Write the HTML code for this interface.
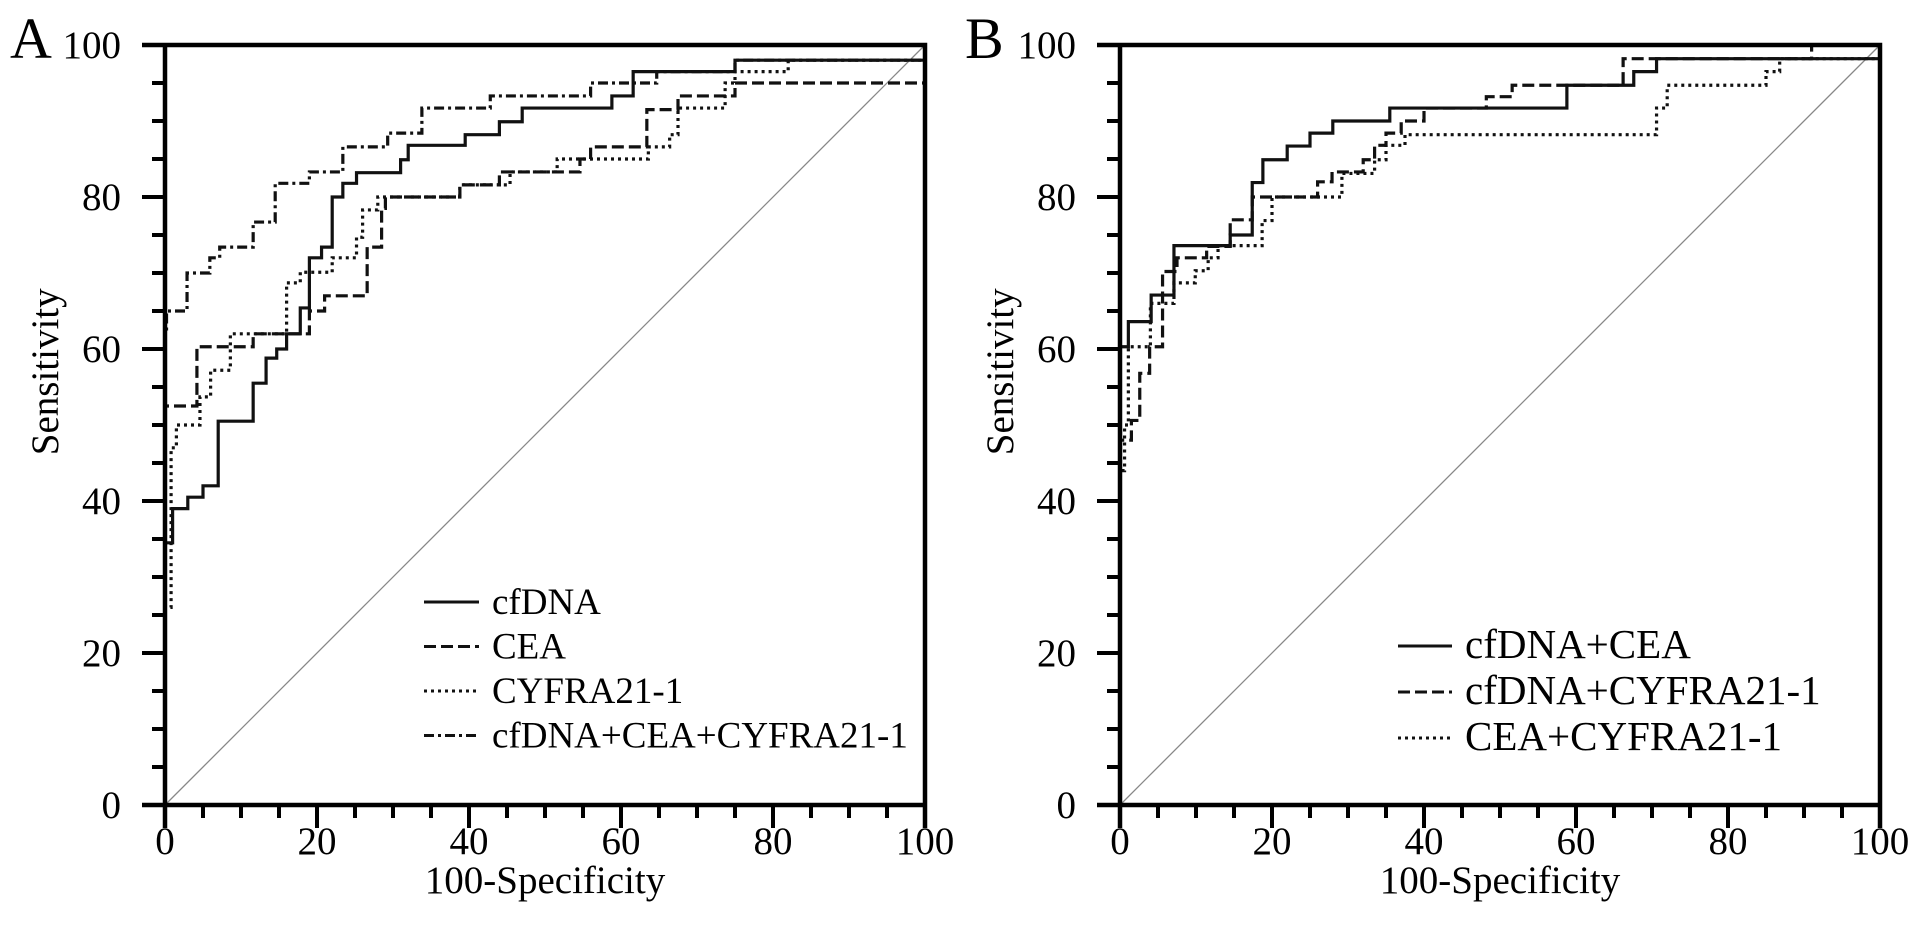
<!DOCTYPE html>
<html><head><meta charset="utf-8">
<style>
html,body{margin:0;padding:0;background:#fff;}
svg{display:block;font-family:"Liberation Serif",serif;}
</style></head>
<body>
<svg id="chart" width="1913" height="941" viewBox="0 0 1913 941" xmlns="http://www.w3.org/2000/svg"></svg>
<script>
// Panel A data: [100-specificity, sensitivity] step points
const aCfDNA = [[0,34.5],[1,39],[3,40.5],[5,42],[7,50.5],[11.6,55.5],[13.3,58.8],[14.7,60],[16,62],[17.8,65.4],[19,72],[20.6,73.4],[22,80],[23.4,81.8],[25.2,83.2],[31,84.9],[32,86.8],[39.5,88.2],[44,89.9],[47,91.7],[58.8,93.3],[61.6,96.5],[75,98],[100,100]];
const aCEA = [[0,52.5],[4.2,60.3],[11.6,62],[19,65],[21,67],[26.6,73.4],[28.5,78.5],[29,80],[38.8,81.6],[44,83.3],[54.6,85],[56,86.6],[63.4,91.5],[67.5,93.3],[75,95],[100,95]];
const aCYFRA = [[0,26],[0.8,47],[1.5,50],[4.6,53.7],[6,57.2],[8.6,62],[16,68.7],[17.8,70.1],[22,72],[25.2,74.7],[26,78.3],[28,80],[38.8,81.6],[45.4,83.3],[51.6,85],[63.6,86.6],[66.4,88.2],[67.5,91.7],[73.7,95],[75,96.5],[82,98],[100,100]];
const aComb = [[0,62],[0.2,65],[2.9,70],[5.9,72],[7.2,73.4],[11.6,76.7],[14.5,81.8],[19,83.3],[23.4,86.6],[29.3,88.4],[33.8,91.7],[42.8,93.3],[56,95],[64.7,96.5],[75,98],[100,100]];
// Panel B data
const bCfCEA = [[0,60.3],[1.1,63.6],[4.1,67.1],[7.1,73.6],[14.5,75],[17.4,81.9],[18.8,84.9],[22,86.7],[25,88.4],[28,90],[35.5,91.7],[58.8,94.7],[67.6,96.5],[70.6,98.2],[100,100]];
const bCfCYFRA = [[0,48],[1.5,50.6],[2.6,56.8],[3.9,60.3],[5.6,70.2],[7.5,72],[11.4,73.5],[14.5,77],[17.4,80],[26,82],[27.9,83.3],[32,84.9],[33.5,86.8],[35,88.4],[37,90],[40,91.7],[48.2,93.2],[51.6,94.7],[66.2,98.2],[91,100],[100,100]];
const bCEACYFRA = [[0,44],[0.6,50],[1.1,60.3],[4,66],[7.1,68.7],[9.9,70.3],[11.6,72],[12.9,73.6],[18.7,76.9],[20,80],[29.2,83.1],[33.5,84.9],[35,86.8],[37.5,88.2],[70.6,91.7],[72,94.7],[85,96.5],[86.8,98.2],[100,100]];
const tickLabels = [0,20,40,60,80,100];
const legendA = ["cfDNA","CEA","CYFRA21-1","cfDNA+CEA+CYFRA21-1"];
const legendB = ["cfDNA+CEA","cfDNA+CYFRA21-1","CEA+CYFRA21-1"];

const NS = "http://www.w3.org/2000/svg";
const svg = document.getElementById('chart');
const STY = {solid:"", dash:"12 5", dot:"3 4", dashdot:"10 4 3 4"};
function mk(tag, attrs, parent){const e=document.createElementNS(NS,tag);for(const k in attrs)e.setAttribute(k,attrs[k]);(parent||svg).appendChild(e);return e;}

function panel(letter, x0, series, styles, labels, legX, legY0, legDy, legW, legFont){
  const y0=805, size=760;
  const sx=v=>x0+v*size/100, sy=v=>y0-v*size/100;
  const g=mk('g',{});
  
  
  const d=mk('line',{x1:sx(0),y1:sy(0),x2:sx(100),y2:sy(100),stroke:'#888','stroke-width':1.3},g);
  
  
  series.forEach((pts,i)=>{
    let p='M'+sx(pts[0][0])+' '+sy(0)+' L'+sx(pts[0][0])+' '+sy(pts[0][1]);
    for(let j=1;j<pts.length;j++){p+=' L'+sx(pts[j][0])+' '+sy(pts[j-1][1])+' L'+sx(pts[j][0])+' '+sy(pts[j][1]);}
    const path=mk('path',{d:p,fill:'none',stroke:'#111','stroke-width':3.2,'stroke-dasharray':STY[styles[i]]},g);
    
    
  });
  const fr=mk('path',{d:`M${sx(0)-23} ${sy(100)} L${sx(100)} ${sy(100)} L${sx(100)} ${sy(0)+23} M${sx(0)} ${sy(100)} L${sx(0)} ${sy(0)+23} M${sx(0)-23} ${sy(0)} L${sx(100)} ${sy(0)}`,fill:'none',stroke:'#000','stroke-width':4.5},g);
  
  
  for(let v=0;v<=100;v+=5){
    const major=v%20===0, L=major?23:13;
    const ty=mk('line',{x1:sx(0)-L,y1:sy(v),x2:sx(0),y2:sy(v),stroke:'#000','stroke-width':4},g);
    
    
    const tx=mk('line',{x1:sx(v),y1:sy(0),x2:sx(v),y2:sy(0)+L,stroke:'#000','stroke-width':4},g);
    
    
  }
  tickLabels.forEach(v=>{
    const t=mk('text',{x:sx(0)-44,y:sy(v)+13,'text-anchor':'end','font-size':39},g);
    t.textContent=v;
    
    
    const u=mk('text',{x:sx(v),y:sy(0)+49,'text-anchor':'middle','font-size':39},g);
    u.textContent=v;
    
    
  });
  const xt=mk('text',{x:sx(50),y:893,'text-anchor':'middle','font-size':39},g);
  xt.textContent='100-Specificity';
  
  
  const yt=mk('text',{x:0,y:0,'text-anchor':'middle','font-size':39,transform:`translate(${sx(0)-107},${sy(57)}) rotate(-90)`},g);
  yt.textContent='Sensitivity';
  
  
  const pl=mk('text',{x:x0-155,y:58,'font-size':58},g);
  pl.textContent=letter;
  
  
  labels.forEach((lab,i)=>{
    const yy=legY0+i*legDy;
    const ln=mk('line',{x1:legX,y1:yy,x2:legX+legW,y2:yy,stroke:'#111','stroke-width':3,'stroke-dasharray':STY[styles[i]]},g);
    
    
    const t=mk('text',{x:legX+legW+13,y:yy+12,'font-size':legFont},g);
    t.textContent=lab;
    
    
  });
}
panel('A',165,[aCfDNA,aCEA,aCYFRA,aComb],['solid','dash','dot','dashdot'],legendA,424,602,44.5,55,37);
panel('B',1120,[bCfCEA,bCfCYFRA,bCEACYFRA],['solid','dash','dot'],legendB,1398,646,46,54,41);
</script>
</body></html>
